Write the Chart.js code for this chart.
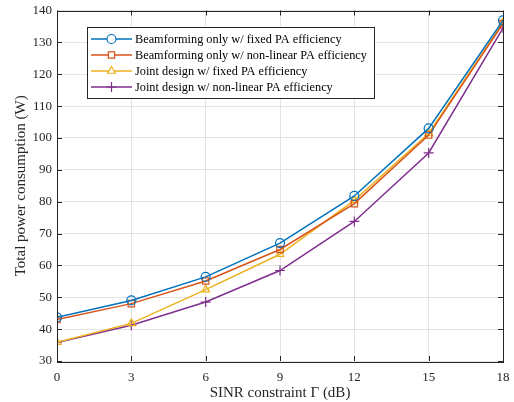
<!DOCTYPE html>
<html>
<head>
<meta charset="utf-8">
<script src="https://cdn.jsdelivr.net/npm/chart.js@4.4.1/dist/chart.umd.min.js"></script>
<style>
  html, body { margin: 0; padding: 0; background: #fff; }
  #wrap { width: 514px; height: 402px; }
</style>
</head>
<body>
<div id="wrap"><canvas id="powerChart" width="514" height="402"></canvas></div>
<script>
// SINR constraint (dB)
const sinr = [0, 3, 6, 9, 12, 15, 18];
const yTicks = [30, 40, 50, 60, 70, 80, 90, 100, 110, 120, 130, 140];

const bfFixed = [43.7, 49.0, 56.4, 67.0, 81.8, 103.0, 136.9];
const bfNonlinear = [43.0, 48.0, 55.1, 65.0, 79.4, 100.9, 135.9];
const jointFixed = [35.9, 41.8, 52.4, 63.5, 80.4, 101.4, 136.2];
const jointNonlinear = [35.8, 41.2, 48.5, 58.4, 73.8, 95.3, 134.5];

const names = [
    'Beamforming only w/ fixed PA efficiency',
    'Beamforming only w/ non-linear PA efficiency',
    'Joint design w/ fixed PA efficiency',
    'Joint design w/ non-linear PA efficiency'
];
const colors = ['#0072BD', '#D95319', '#EDB120', '#7E2F8E'];
const markers = ['circle', 'rect', 'triangle', 'cross'];
const series = [bfFixed, bfNonlinear, jointFixed, jointNonlinear];

const serif = '"Liberation Serif", "DejaVu Serif", serif';

function toPoints(values) {
    return sinr.map(function(x, i) { return { x: x, y: values[i] }; });
}

// 박스, 안쪽 눈금, 범례 그리기
const matlabFrame = {
    id: 'matlabFrame',
    afterDatasetsDraw: function(chart) {
        const ctx = chart.ctx;
        const area = chart.chartArea;
        const xs = chart.scales.x;
        const ys = chart.scales.y;
        ctx.save();
        ctx.strokeStyle = '#262626';
        ctx.lineWidth = 1;
        ctx.beginPath();
        sinr.forEach(function(v) {
            const px = Math.round(xs.getPixelForValue(v)) + 0.5;
            ctx.moveTo(px, area.bottom); ctx.lineTo(px, area.bottom - 5);
            ctx.moveTo(px, area.top); ctx.lineTo(px, area.top + 5);
        });
        yTicks.forEach(function(v) {
            const py = Math.round(ys.getPixelForValue(v)) + 0.5;
            ctx.moveTo(area.left, py); ctx.lineTo(area.left + 5, py);
            ctx.moveTo(area.right, py); ctx.lineTo(area.right - 5, py);
        });
        ctx.stroke();
        ctx.strokeRect(Math.round(area.left) + 0.5, Math.round(area.top) + 0.5,
            Math.round(area.right - area.left), Math.round(area.bottom - area.top));

        // 범례
        const lx = 87.5, ly = 27.5, lw = 287, lh = 71;
        ctx.fillStyle = '#fff';
        ctx.fillRect(lx, ly, lw, lh);
        ctx.strokeStyle = '#262626';
        ctx.strokeRect(lx, ly, lw, lh);
        ctx.font = '12.3px ' + serif;
        ctx.textBaseline = 'middle';
        ctx.textAlign = 'left';
        names.forEach(function(name, i) {
            const ry = 39 + i * 16;
            ctx.strokeStyle = colors[i];
            ctx.lineWidth = 1.5;
            ctx.beginPath();
            ctx.moveTo(91, ry); ctx.lineTo(132, ry);
            ctx.stroke();
            ctx.fillStyle = '#fff';
            ctx.lineWidth = 1.2;
            Chart.helpers.drawPoint(ctx, {
                pointStyle: markers[i], radius: markers[i] === 'cross' ? 5 : 4.5,
                borderWidth: 1.2
            }, 111.5, ry);
            ctx.fillStyle = '#000';
            ctx.fillText(name, 135, ry + 1);
        });
        ctx.restore();
    }
};

function createPowerChart() {
    const ctx = document.getElementById('powerChart').getContext('2d');

    new Chart(ctx, {
        type: 'line',
        data: {
            datasets: series.map(function(values, i) {
                return {
                    label: names[i],
                    data: toPoints(values),
                    borderColor: colors[i],
                    backgroundColor: 'rgba(0,0,0,0)',
                    borderWidth: 1.5,
                    pointStyle: markers[i],
                    pointRadius: markers[i] === 'cross' ? 5 : 4.5,
                    pointBorderWidth: 1.2,
                    pointBorderColor: colors[i],
                    pointBackgroundColor: 'rgba(0,0,0,0)',
                    tension: 0,
                    fill: false
                };
            })
        },
        options: {
            responsive: false,
            animation: false,
            devicePixelRatio: 1,
            layout: { padding: { top: 10.5, right: 11, left: 0, bottom: 0 } },
            plugins: {
                legend: { display: false },
                tooltip: { enabled: false }
            },
            scales: {
                x: {
                    type: 'linear',
                    min: 0,
                    max: 18,
                    afterBuildTicks: function(scale) {
                        scale.ticks = sinr.map(function(v) { return { value: v }; });
                    },
                    afterFit: function(scale) {
                        scale.height = 41;
                        scale.paddingLeft = 0;
                        scale.paddingRight = 0;
                    },
                    grid: { color: '#e3e3e3', drawTicks: false },
                    border: { display: false },
                    ticks: {
                        color: '#262626',
                        padding: 9,
                        maxRotation: 0,
                        font: { family: serif, size: 13 }
                    },
                    title: {
                        display: true,
                        text: 'SINR constraint Γ (dB)',
                        color: '#262626',
                        padding: { top: 0, bottom: 0 },
                        font: { family: serif, size: 15 }
                    }
                },
                y: {
                    min: 30,
                    max: 140,
                    afterBuildTicks: function(scale) {
                        scale.ticks = yTicks.map(function(v) { return { value: v }; });
                    },
                    afterFit: function(scale) {
                        scale.width = 57;
                        scale.paddingTop = 0;
                        scale.paddingBottom = 0;
                    },
                    grid: { color: '#e3e3e3', drawTicks: false },
                    border: { display: false },
                    ticks: {
                        color: '#262626',
                        padding: 5,
                        font: { family: serif, size: 13 }
                    },
                    title: {
                        display: true,
                        text: 'Total power consumption (W)',
                        color: '#262626',
                        padding: { top: 12, bottom: 0 },
                        font: { family: serif, size: 15 }
                    }
                }
            }
        },
        plugins: [matlabFrame]
    });
}

document.addEventListener('DOMContentLoaded', function() {
    createPowerChart();
});
</script>
</body>
</html>
